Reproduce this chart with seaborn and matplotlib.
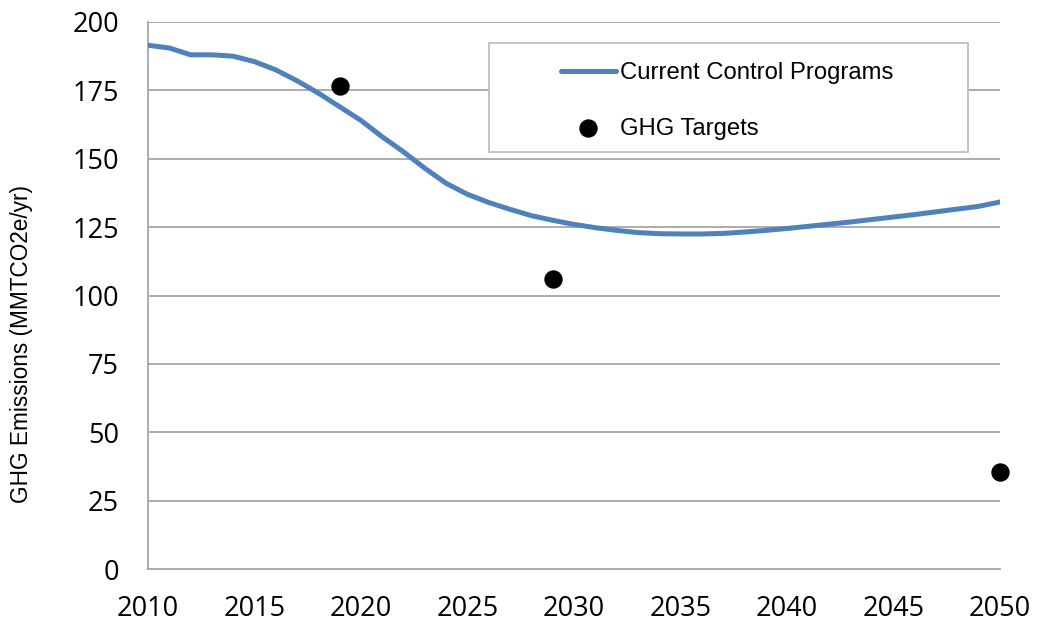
import matplotlib
matplotlib.use("Agg")
import matplotlib.pyplot as plt
import seaborn as sns
import pandas as pd
from matplotlib.patches import Rectangle

years = list(range(2010, 2051))
emissions = [191.5, 190.5, 188.0, 188.0, 187.5, 185.5, 182.5, 178.5, 174.0, 169.0,
             164.0, 158.0, 152.5, 146.5, 141.0, 137.0, 134.0, 131.5, 129.2, 127.5,
             126.0, 124.8, 123.8, 123.0, 122.6, 122.5, 122.5, 122.7, 123.2, 123.8,
             124.5, 125.3, 126.1, 126.9, 127.8, 128.7, 129.6, 130.6, 131.6, 132.6, 134.2]
target_years = [2019, 2029, 2050]
target_values = [176.6, 106.0, 35.5]
xticks = list(range(2010, 2051, 5))
yticks = list(range(0, 201, 25))

sns.set_style("white")
plt.rcParams['font.family'] = ['Liberation Sans', 'DejaVu Sans']
plt.rcParams['text.color'] = 'black'
plt.rcParams['axes.labelcolor'] = 'black'
plt.rcParams['xtick.color'] = 'black'
plt.rcParams['ytick.color'] = 'black'

line_df = pd.DataFrame({"year": years, "value": emissions})
tgt_df = pd.DataFrame({"year": target_years, "value": target_values})

fig = plt.figure(figsize=(10.38, 6.27), dpi=100)
ax = fig.add_axes([148/1038, 1-569/627, 852/1038, 547/627])

grid_c = "#A6A6A6"
for v in yticks[1:]:
    ax.axhline(v, color=grid_c, lw=1.3, zorder=0)

sns.lineplot(data=line_df, x="year", y="value", ax=ax, color="#4F81BD", lw=3.6,
             label="Current Control Programs", zorder=3, legend=False)
sns.scatterplot(data=tgt_df, x="year", y="value", ax=ax, color="black", s=150,
                edgecolor="black", label="GHG Targets", zorder=4, legend=False,
                clip_on=False)

ax.set_xlim(2010, 2050)
ax.set_ylim(0, 200)
ax.set_xticks(xticks)
ax.set_yticks(yticks)
ax.set_xlabel("")
ax.set_ylabel("GHG Emissions (MMTCO2e/yr)", fontsize=16.3)
ax.yaxis.set_label_coords((33-148)/852, (569-344)/547)

for s in ["top", "right"]:
    ax.spines[s].set_visible(False)
for s in ["left", "bottom"]:
    ax.spines[s].set_color(grid_c)
    ax.spines[s].set_linewidth(1.3)
ax.tick_params(axis="both", direction="out", length=7, width=1.3, color=grid_c,
               labelsize=19.5, labelcolor="black")
ax.tick_params(axis="y", pad=14)
ax.tick_params(axis="x", pad=12)
for lab in ax.get_xticklabels() + ax.get_yticklabels():
    lab.set_fontfamily(['Open Sans', 'DejaVu Sans'])

# legend frame
ax.add_patch(Rectangle(((489-148)/852, (569-152)/547), 479/852, 109/547,
                       transform=ax.transAxes, facecolor="white", edgecolor="#BFBFBF",
                       lw=1.3, zorder=5))
handles, labels = ax.get_legend_handles_labels()
leg = ax.legend(handles, labels, loc="center", bbox_to_anchor=((727-148)/852, (569-101)/547),
                frameon=False, fontsize=17.2, handlelength=2.3, handletextpad=0.17,
                labelspacing=1.39, borderpad=0)
leg.set_zorder(6)

fig.savefig("out.png", dpi=100)
